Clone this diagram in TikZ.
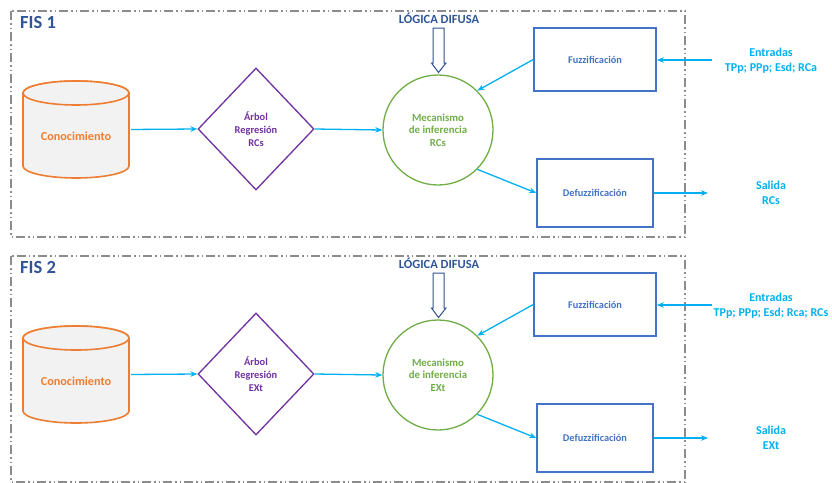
\documentclass[tikz,border=0pt]{standalone}
\usepackage{fontspec}
\setmainfont{Carlito}
\usetikzlibrary{calc,shapes.geometric,arrows.meta}
\definecolor{fisblue}{HTML}{2F5597}
\definecolor{framegray}{HTML}{8C8C8C}
\definecolor{orangeC}{HTML}{ED7D31}
\definecolor{cylgray}{HTML}{F2F2F2}
\definecolor{purpleC}{HTML}{7030A0}
\definecolor{greenC}{HTML}{70AD47}
\definecolor{boxblue}{HTML}{4472C4}
\definecolor{cyanC}{HTML}{00B0F0}
\definecolor{navyC}{HTML}{2F4F8F}
\tikzset{
  frame/.style={draw=framegray, line width=1.1pt,
    dash pattern=on 9pt off 3pt on 1.5pt off 3pt on 1.5pt off 3pt},
  fislabel/.style={font=\bfseries\fontsize{18.5}{22}\selectfont, text=fisblue, anchor=west, inner sep=0pt},
  cylline/.style={draw=orangeC, fill=cylgray, line width=1.6pt},
  cyltext/.style={font=\bfseries\fontsize{12.2}{15}\selectfont, text=orangeC, inner sep=0pt},
  treebox/.style={diamond, draw=purpleC, line width=1.3pt, minimum width=116pt, minimum height=122pt,
    inner sep=0pt, text=purpleC, align=center, font=\bfseries\fontsize{10.4}{13}\selectfont},
  mech/.style={circle, draw=greenC, line width=1.3pt, minimum size=110pt, inner sep=0pt,
    text=greenC, align=center, font=\bfseries\fontsize{10.8}{12.7}\selectfont},
  logic/.style={font=\bfseries\fontsize{12.5}{14}\selectfont, text=fisblue, inner sep=0pt},
  hollow/.style={draw=navyC, line width=1pt, fill=white, line join=miter},
  fuzzbox/.style={rectangle, draw=boxblue, line width=1.5pt, inner sep=0pt,
    text=boxblue, font=\bfseries\fontsize{10.3}{12}\selectfont},
  io/.style={align=center, text=cyanC, inner sep=0pt, font=\bfseries\fontsize{12}{15}\selectfont},
  flow/.style={draw=cyanC, line width=1.3pt, -{Stealth[length=7pt, width=5.5pt]}}
}
\begin{document}
\begin{tikzpicture}[x=1pt,y=-1pt]
\useasboundingbox (0,0) rectangle (832,482);
\foreach \k/\dy/\tree/\ins/\outs in {1/0/RCs/{TPp; PPp; Esd; RCa}/RCs, 2/245/EXt/{TPp; PPp; Esd; Rca; RCs}/EXt}{
\begin{scope}[yshift={-\dy*1pt}]
  % dash-dot panel frame
  \draw[frame] (11,11) rectangle (685,237);
  \node[fislabel] (fis\k) at (20,22) {FIS \k};
  % knowledge base cylinder
  \node[inner sep=0pt, minimum width=106pt, minimum height=98pt] (cyl\k) at (76,129.5) {};
  \path[cylline] (23,93) -- (23,166)
    arc[start angle=180, end angle=360, x radius=53pt, y radius=12pt] -- (129,93)
    arc[start angle=0, end angle=180, x radius=53pt, y radius=12pt] -- cycle;
  \draw[cylline] (76,93) ellipse [x radius=53pt, y radius=12pt];
  \node[cyltext] (kb\k) at (76,136) {Conocimiento};
  % regression tree, inference engine
  \node[treebox] (tree\k) at (256,129) {Árbol\\Regresión\\\tree};
  \node[mech] (mec\k) at (438,130) {Mecanismo\\de inferencia\\\tree};
  % fuzzy logic label and hollow arrow
  \node[logic] (logic\k) at (439,18.5) {LÓGICA DIFUSA};
  \draw[hollow] (433,28) -- (433,63) -- (431.5,63) -- (438.5,72.5) -- (446,63) -- (444,63) -- (444,28) -- cycle;
  % fuzzification / defuzzification
  \node[fuzzbox, minimum width=122pt, minimum height=63pt] (fuzz\k) at (595,59.5) {Fuzzificación};
  \node[fuzzbox, minimum width=116pt, minimum height=68pt] (defuzz\k) at (595,193) {Defuzzificación};
  % inputs and outputs
  \node[io] (in\k) at (771,60.5) {Entradas\\\ins};
  \node[io] (out\k) at (771,193) {Salida\\\outs};
  \coordinate (inpt\k) at (712,60);
  \coordinate (outpt\k) at (708,193);
  % connectors
  \draw[flow, shorten <=2pt] (cyl\k.east) -- (tree\k.west);
  \draw[flow] (tree\k.east) -- (mec\k.west);
  \draw[flow] (inpt\k) -- (fuzz\k.east |- inpt\k);
  \draw[flow] (fuzz\k.west) -- (mec\k.45);
  \draw[flow] (mec\k.-45) -- (defuzz\k.west);
  \draw[flow] (defuzz\k.east) -- (outpt\k);
\end{scope}}
\end{tikzpicture}
\end{document}
